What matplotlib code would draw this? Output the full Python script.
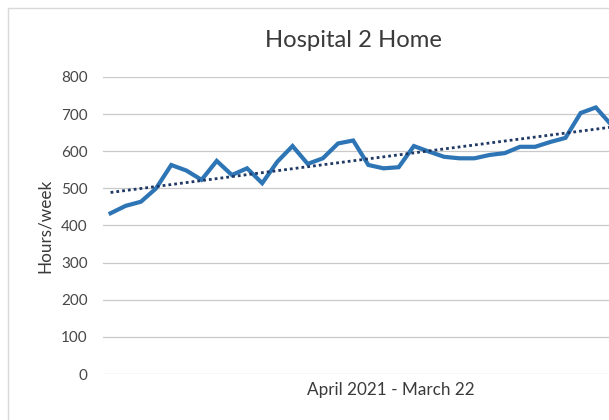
import matplotlib

matplotlib.use("Agg")
import matplotlib.pyplot as plt
import numpy as np
from matplotlib.lines import Line2D

# weekly hours, April 2021 onwards (chart is cut off on the right)
hours = [433, 453, 464, 500, 563, 548, 523, 574, 536, 554, 514, 572, 614, 566, 581,
         621, 629, 563, 554, 557, 614, 599, 585, 581, 581, 590, 595, 612, 612, 625,
         636, 703, 718, 672]
y_ticks = [0, 100, 200, 300, 400, 500, 600, 700, 800]
trend_intercept = 489.0
trend_slope = 5.33

title = "Hospital 2 Home"
x_title = "April 2021 - March 22"
y_title = "Hours/week"

W, H = 609, 420
plt.rcParams["font.family"] = ["Lato", "DejaVu Sans"]


def px(x, y):
    """pixel coords (top-left origin) -> figure fraction"""
    return x / W, 1 - y / H


fig = plt.figure(figsize=(W / 100, H / 100), dpi=100)
left, top, bottom = 103, 77, 374
ax = fig.add_axes([left / W, 1 - bottom / H, (W - left) / W, (bottom - top) / H])

weeks = np.arange(len(hours))
ax.plot(weeks, hours, color="#2e75b6", lw=3.0, solid_joinstyle="miter", zorder=3)
ax.plot(weeks, trend_intercept + trend_slope * weeks, color="#1f3864", lw=2.0,
        linestyle=(0, (1, 1.1)), zorder=4)

ax.set_xlim(-0.5, 32.87)
ax.set_ylim(0, 800)
ax.set_yticks(y_ticks)
ax.set_xticks([])
ax.yaxis.grid(True, color="#c9c9c9", lw=0.9)
ax.set_axisbelow(True)
for s in ax.spines.values():
    s.set_visible(False)
ax.tick_params(axis="y", length=0, pad=11, labelsize=11, labelcolor="#474747")

fig.text(*px(265, 46.7), title, ha="left", va="baseline", fontsize=17.2, color="#3a3a3a")
fig.text(*px(307, 395), x_title, ha="left", va="baseline", fontsize=12.3, color="#3a3a3a")
fig.text(*px(45, 226), y_title, ha="center", va="center", rotation=90, fontsize=12.3,
         color="#3a3a3a")

# chart area border (cut off at right and bottom)
xs, ys = zip(px(8, H + 2), px(8, 7.5), px(W + 2, 7.5))
fig.add_artist(Line2D(xs, ys, color="#d9d9d9", lw=1.0))

fig.savefig("out.png", dpi=100)
plt.close(fig)
